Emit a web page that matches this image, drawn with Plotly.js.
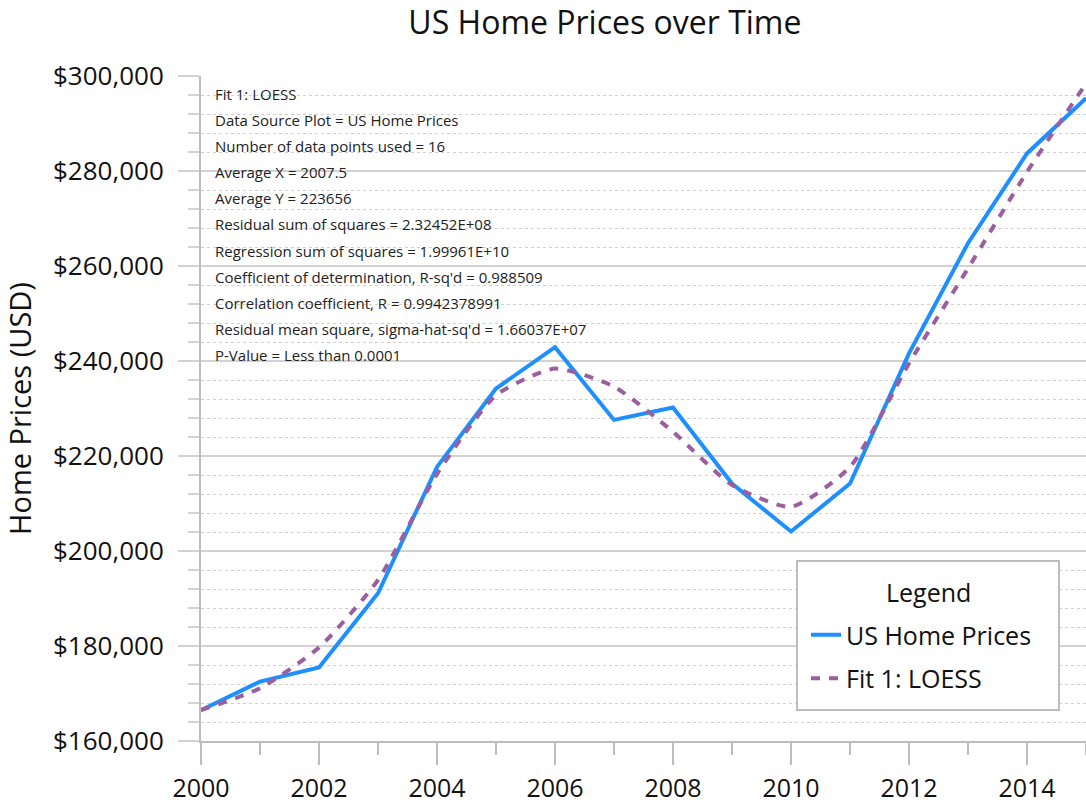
<!DOCTYPE html>
<html>
<head>
<meta charset="utf-8">
<script src="https://cdn.plot.ly/plotly-3.0.1.min.js"></script>
<style>html,body{margin:0;padding:0;background:#fff;}#chart{width:1086px;height:807px;}</style>
</head>
<body>
<div id="chart"></div>
<script>
const years = [2000,2001,2002,2003,2004,2005,2006,2007,2008,2009,2010,2011,2012,2013,2014,2015];
const homePrices = [166500,172500,175500,191100,217700,234200,242900,227600,230200,214200,204100,214200,241600,264800,283700,295300];
const loessFit = [166500,171100,179700,193900,216200,232800,238400,234600,225100,213900,209300,217700,239500,259500,279800,298400];
const statsLines = [
  "Fit 1: LOESS",
  "Data Source Plot = US Home Prices",
  "Number of data points used = 16",
  "Average X = 2007.5",
  "Average Y = 223656",
  "Residual sum of squares = 2.32452E+08",
  "Regression sum of squares = 1.99961E+10",
  "Coefficient of determination, R-sq'd = 0.988509",
  "Correlation coefficient, R = 0.9942378991",
  "Residual mean square, sigma-hat-sq'd = 1.66037E+07",
  "P-Value = Less than 0.0001"
];
const legendTitle = "Legend";

const FONT = "Open Sans, Noto Sans, sans-serif";
const traces = [
  {x: years, y: homePrices, type: 'scatter', mode: 'lines', name: 'US Home Prices', legendgroup: 'a',
   line: {color: '#1E8FFF', width: 4}},
  {x: years, y: loessFit, type: 'scatter', mode: 'lines', name: 'Fit 1: LOESS', legendgroup: 'b',
   line: {color: '#9B5E9E', width: 4, dash: '9px,9px', shape: 'spline', smoothing: 0.6}}
];

const plotTop = 76, plotBottom = 741, plotH = plotBottom - plotTop, plotL = 201, plotW = 1086 - 201;
const px = v => (v - plotL) / plotW;
const py = v => (plotBottom - v) / plotH;

const annotations = statsLines.map((t, i) => ({
  text: t, xref: 'paper', yref: 'paper', x: px(213),
  y: py(94 + i * 26.1), xanchor: 'left', yanchor: 'middle',
  showarrow: false, align: 'left', font: {family: FONT, size: 15, color: '#222'}
}));
annotations.push({
  text: legendTitle, xref: 'paper', yref: 'paper', x: px(928), y: py(592),
  xanchor: 'center', yanchor: 'middle', showarrow: false,
  font: {family: FONT, size: 25, color: '#111'}
});

const layout = {
  width: 1086, height: 807,
  margin: {l: plotL, r: 0, t: plotTop, b: 807 - plotBottom},
  paper_bgcolor: '#fff', plot_bgcolor: '#fff',
  title: {text: 'US Home Prices over Time', x: 0.557, xanchor: 'center', y: 0.972, yanchor: 'middle',
          font: {family: FONT, size: 32, color: '#111'}},
  xaxis: {range: [2000, 2015], dtick: 2, tick0: 2000, showgrid: false, zeroline: false,
          showline: true, linecolor: '#bdbdbd', linewidth: 2,
          ticks: 'outside', ticklen: 22, tickwidth: 2, tickcolor: '#bdbdbd', ticklabelstandoff: 2,
          tickfont: {family: FONT, size: 25, color: '#111'},
          minor: {dtick: 1, ticks: 'outside', ticklen: 12, tickwidth: 2, tickcolor: '#bdbdbd', showgrid: false}},
  yaxis: {range: [160000, 300000], dtick: 20000, tickprefix: '$', tickformat: ',d',
          title: {text: 'Home Prices (USD)', font: {family: FONT, size: 29, color: '#111'}, standoff: 14},
          showgrid: true, gridcolor: '#d2d2d2', gridwidth: 2, zeroline: false,
          showline: true, linecolor: '#bdbdbd', linewidth: 2,
          ticks: 'outside', ticklen: 21, tickwidth: 2, tickcolor: '#d2d2d2', ticklabelstandoff: 9,
          tickfont: {family: FONT, size: 26, color: '#111'},
          minor: {dtick: 4000, ticks: 'outside', ticklen: 11, tickwidth: 2, tickcolor: '#d2d2d2',
                  showgrid: true, gridcolor: '#cfcfcf', griddash: 'dot', gridwidth: 1}},
  showlegend: true,
  legend: {x: px(806), y: py(612), xanchor: 'left', yanchor: 'top',
           bgcolor: 'rgba(0,0,0,0)', borderwidth: 0, traceorder: 'grouped', tracegroupgap: 8,
           itemwidth: 30, font: {family: FONT, size: 25, color: '#111'}},
  shapes: [{type: 'rect', xref: 'paper', yref: 'paper', x0: px(797), x1: px(1059), y0: py(710), y1: py(561),
            line: {color: '#bdbdbd', width: 2}, fillcolor: '#fff', layer: 'above'}],
  annotations: annotations
};

Plotly.newPlot('chart', traces, layout, {displayModeBar: false, staticPlot: true});
</script>
</body>
</html>
